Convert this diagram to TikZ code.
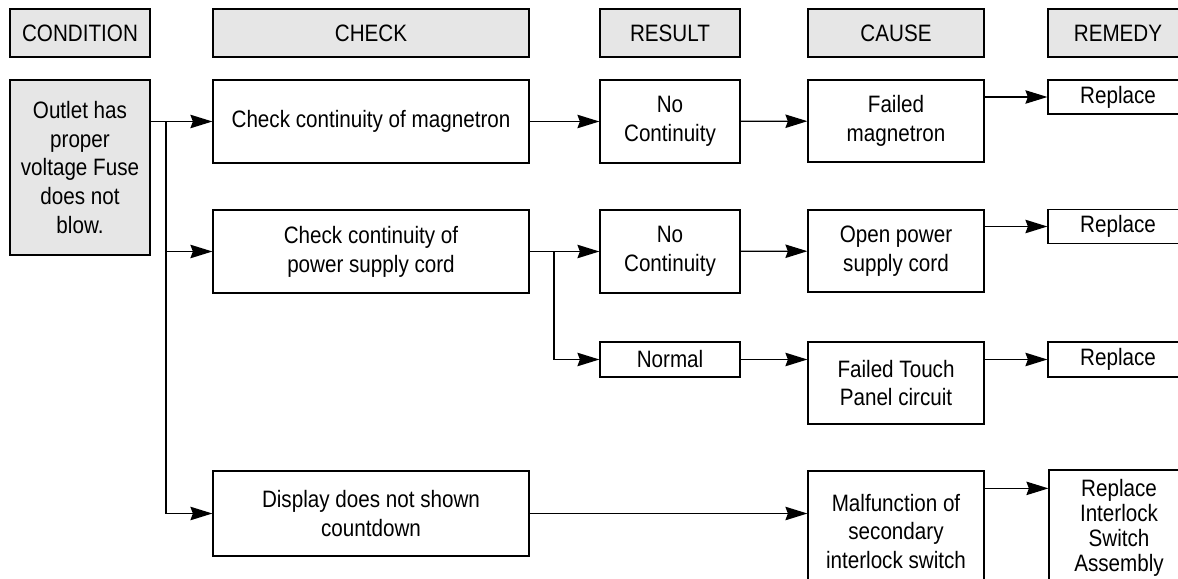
\documentclass[tikz,border=0pt]{standalone}
\usepackage{fontspec}
\setmainfont[FakeStretch=0.87]{Liberation Sans}
\usepackage{tikz}
\usetikzlibrary{positioning,arrows.meta}
\definecolor{hdrGray}{RGB}{230,230,230}
\tikzstyle{flowArr}=[-{Stealth[length=4.4mm, width=2.7mm, inset=0.5mm]}, black, line width=0.7pt]
\tikzstyle{col_head}=[rectangle, draw=black, fill=hdrGray, line width=0.7pt, minimum height=0.96cm, font=\fontsize{13.5}{16.4}\selectfont]
\tikzstyle{flow_box}=[rectangle, draw=black, fill=white, line width=0.7pt, align=center, font=\fontsize{13.5}{16.4}\selectfont]

\begin{document}
\begin{tikzpicture}
        \useasboundingbox (0,0) rectangle (23.56,-11.58);

        %Headers
        \node [style=col_head, minimum width=2.8cm] (hCond) at (1.6, -0.66) {CONDITION};
        \node [style=col_head, minimum width=6.32cm] (hCheck) at (7.42, -0.66) {CHECK};
        \node [style=col_head, minimum width=2.8cm] (hResult) at (13.4, -0.66) {RESULT};
        \node [style=col_head, minimum width=3.52cm] (hCause) at (17.92, -0.66) {CAUSE};
        \node [style=col_head, minimum width=2.8cm] (hRemedy) at (22.36, -0.66) {REMEDY};

        %Condition
        \node [style=flow_box, fill=hdrGray, minimum width=2.8cm, minimum height=3.5cm] (cond) at (1.6, -3.35) {Outlet has\\proper\\voltage Fuse\\does not\\blow.};

        %Check
        \node [style=flow_box, minimum width=6.32cm, minimum height=1.66cm] (chkMag) at (7.42, -2.43) {Check continuity of magnetron};
        \node [style=flow_box, minimum width=6.32cm, minimum height=1.66cm] (chkCord) at (7.42, -5.03) {Check continuity of\\power supply cord};
        \node [style=flow_box, minimum width=6.32cm, minimum height=1.7cm] (chkDisp) at (7.42, -10.27) {Display does not shown\\countdown};

        %Result
        \node [style=flow_box, minimum width=2.8cm, minimum height=1.66cm] (resMag) at (13.4, -2.43) {No\\Continuity};
        \node [style=flow_box, minimum width=2.8cm, minimum height=1.66cm] (resCord) at (13.4, -5.03) {No\\Continuity};
        \node [style=flow_box, minimum width=2.8cm, minimum height=0.7cm] (resNorm) at (13.4, -7.19) {Normal};

        %Cause
        \node [style=flow_box, minimum width=3.52cm, minimum height=1.64cm] (cauMag) at (17.92, -2.42) {Failed\\magnetron};
        \node [style=flow_box, minimum width=3.52cm, minimum height=1.64cm] (cauCord) at (17.92, -5.02) {Open power\\supply cord};
        \node [style=flow_box, minimum width=3.52cm, minimum height=1.64cm] (cauTouch) at (17.92, -7.66) {Failed Touch\\Panel circuit};
        \node [style=flow_box, minimum width=3.52cm, minimum height=2.42cm] (cauSw) at (17.92, -10.63) {Malfunction of\\secondary\\interlock switch};

        %Remedy
        \node [style=flow_box, minimum width=2.8cm, minimum height=0.68cm] (remMag) at (22.36, -1.94) {Replace};
        \node [style=flow_box, minimum width=2.8cm, minimum height=0.68cm] (remCord) at (22.36, -4.53) {Replace};
        \node [style=flow_box, minimum width=2.8cm, minimum height=0.7cm] (remTouch) at (22.36, -7.19) {Replace};
        \node [style=flow_box, minimum width=2.8cm, minimum height=2.32cm, font=\fontsize{13.5}{14.3}\selectfont] (remSw) at (22.38, -10.56) {Replace\\Interlock\\Switch\\Assembly};

        \coordinate (trunk) at (3.32, -2.43);
        \coordinate (branch) at (11.08, -5.03);
        \coordinate (swOut) at ([yshift=-0.36cm]cauSw.north east);

        % Condition to checks
        \draw [style={flowArr}] (cond.east |- chkMag) -- (chkMag);
        \draw [style={flowArr}] (trunk) |- (chkCord);
        \draw [style={flowArr}] (trunk) |- (chkDisp);

        % Checks to results
        \draw [style={flowArr}] (chkMag) -- (resMag);
        \draw [style={flowArr}] (chkCord) -- (resCord);
        \draw [style={flowArr}] (branch) |- (resNorm);

        % Results to causes
        \draw [style={flowArr}] (resMag) -- (cauMag);
        \draw [style={flowArr}] (resCord) -- (cauCord);
        \draw [style={flowArr}] (resNorm) -- (resNorm -| cauTouch.west);
        \draw [style={flowArr}] (chkDisp) -- (chkDisp -| cauSw.west);

        % Causes to remedies
        \draw [style={flowArr}] (cauMag.east |- remMag) -- (remMag);
        \draw [style={flowArr}] (cauCord.east |- remCord) -- (remCord);
        \draw [style={flowArr}] (cauTouch.east |- remTouch) -- (remTouch);
        \draw [style={flowArr}] (swOut) -- (swOut -| remSw.west);
    \end{tikzpicture}
\end{document}
